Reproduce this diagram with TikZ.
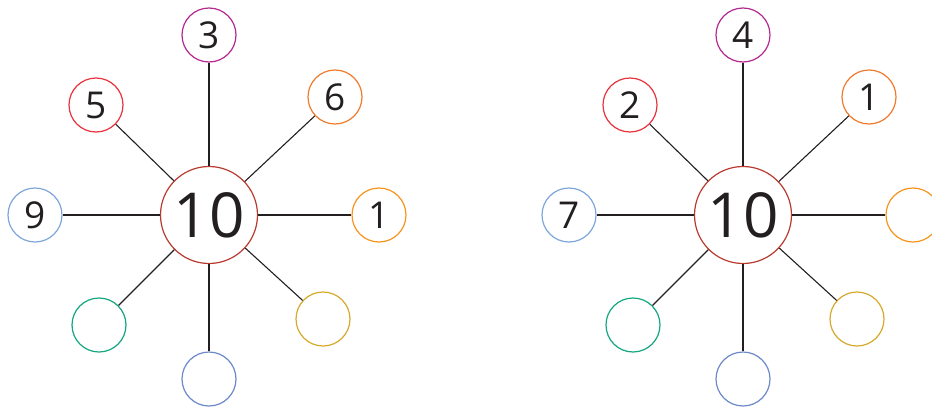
\documentclass[tikz,border=0pt]{standalone}
\usepackage{fontspec}
\setmainfont{Open Sans}
\usepackage{tikz}

\definecolor{hubred}{HTML}{B83A2E}
\definecolor{cmagenta}{HTML}{B5288F}
\definecolor{cred}{HTML}{E8323C}
\definecolor{corange}{HTML}{F07B2C}
\definecolor{cyellorange}{HTML}{F7941E}
\definecolor{clightblue}{HTML}{7EA6DA}
\definecolor{cgreen}{HTML}{12A77F}
\definecolor{cblue}{HTML}{6D89C9}
\definecolor{cyellow}{HTML}{D6A92C}
\definecolor{ink}{HTML}{231F20}

\tikzset{
  hub/.style={draw=hubred, circle, line width=1.2pt, fill=white, text=ink,
    minimum size=97pt, inner sep=0pt, font=\fontsize{62}{62}\selectfont},
  leaf/.style={draw=#1, circle, line width=1.2pt, fill=white, text=ink,
    minimum size=54pt, inner sep=0pt, font=\fontsize{37}{37}\selectfont},
  spoke/.style={draw=ink, line width=1.1pt}
}

\begin{document}
\begin{tikzpicture}[x=1pt, y=-1pt]
    \useasboundingbox (0,0) rectangle (932,407);

    % Rueda izquierda
    \node[hub] (L0) at (209,215) {10};
    \node[leaf=cmagenta]    (L1) at (209,35)  {3};
    \node[leaf=corange]     (L2) at (335,97)  {6};
    \node[leaf=cyellorange] (L3) at (379,215) {1};
    \node[leaf=cyellow]     (L4) at (323,319) {};
    \node[leaf=cblue]       (L5) at (209,379) {};
    \node[leaf=cgreen]      (L6) at (99,325)  {};
    \node[leaf=clightblue]  (L7) at (35,215)  {9};
    \node[leaf=cred]        (L8) at (96,105)  {5};

    % Rueda derecha
    \node[hub] (R0) at (743,215) {10};
    \node[leaf=cmagenta]    (R1) at (743,35)  {4};
    \node[leaf=corange]     (R2) at (869,97)  {1};
    \node[leaf=cyellorange] (R3) at (913,215) {};
    \node[leaf=cyellow]     (R4) at (857,319) {};
    \node[leaf=cblue]       (R5) at (743,379) {};
    \node[leaf=cgreen]      (R6) at (633,325) {};
    \node[leaf=clightblue]  (R7) at (569,215) {7};
    \node[leaf=cred]        (R8) at (630,105) {2};

    % Radios izquierda
    \draw[spoke] (L0) -- (L1);
    \draw[spoke] (L0) -- (L2);
    \draw[spoke] (L0) -- (L3);
    \draw[spoke] (L0) -- (L4);
    \draw[spoke] (L0) -- (L5);
    \draw[spoke] (L0) -- (L6);
    \draw[spoke] (L0) -- (L7);
    \draw[spoke] (L0) -- (L8);

    % Radios derecha
    \draw[spoke] (R0) -- (R1);
    \draw[spoke] (R0) -- (R2);
    \draw[spoke] (R0) -- (R3);
    \draw[spoke] (R0) -- (R4);
    \draw[spoke] (R0) -- (R5);
    \draw[spoke] (R0) -- (R6);
    \draw[spoke] (R0) -- (R7);
    \draw[spoke] (R0) -- (R8);
\end{tikzpicture}
\end{document}
